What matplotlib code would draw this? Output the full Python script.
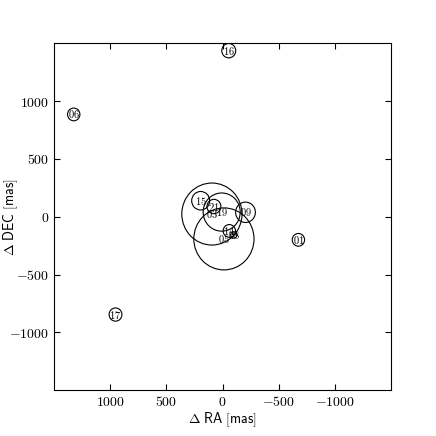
import matplotlib
matplotlib.use("Agg")
import matplotlib.pyplot as plt

plt.rcParams['mathtext.fontset'] = 'cm'
plt.rcParams['font.family'] = 'serif'
plt.rcParams['font.serif'] = ['DejaVu Serif']

# source offsets and error circles [mas]
names = ['16', '06', '01', '17', '15', '21', '03', '19', '09', '14', '05', '08']
ra = [-55, 1325, -675, 953, 195, 77, 95, 8, -204, -60, -12, -100]
dec = [1435, 884, -200, -846, 138, 88, 23, 40, 38, -123, -192, -158]
radius = [62, 55, 55, 57, 80, 62, 268, 165, 88, 55, 268, 28]

ticks = [1000, 500, 0, -500, -1000]

fig = plt.figure(figsize=(4.36, 4.36), dpi=100)
ax = fig.add_axes([0.124, 0.105, 0.773, 0.796])

for n, x, y, r in zip(names, ra, dec, radius):
    ax.add_patch(plt.Circle((x, y), r, fill=False, edgecolor='black', linewidth=0.8))
    ax.text(x, y, r'$\mathrm{%s}$' % n, ha='center', va='center', fontsize=7.5)

ax.set_xlim(1500, -1500)
ax.set_ylim(-1500, 1500)
ax.set_xticks(ticks, labels=[r'$%d$' % t for t in ticks])
ax.set_yticks(ticks, labels=[r'$%d$' % t for t in ticks])
ax.tick_params(direction='in', top=True, right=True, length=4, labelsize=10)
ax.set_xlabel(r'$\Delta\ \mathsf{RA\ [mas]}$', fontsize=10)
ax.set_ylabel(r'$\Delta\ \mathsf{DEC\ [mas]}$', fontsize=10)
ax.yaxis.set_label_coords(-0.1, 0.5)
ax.xaxis.set_label_coords(0.5, -0.058)

fig.savefig('out.png', dpi=100)
